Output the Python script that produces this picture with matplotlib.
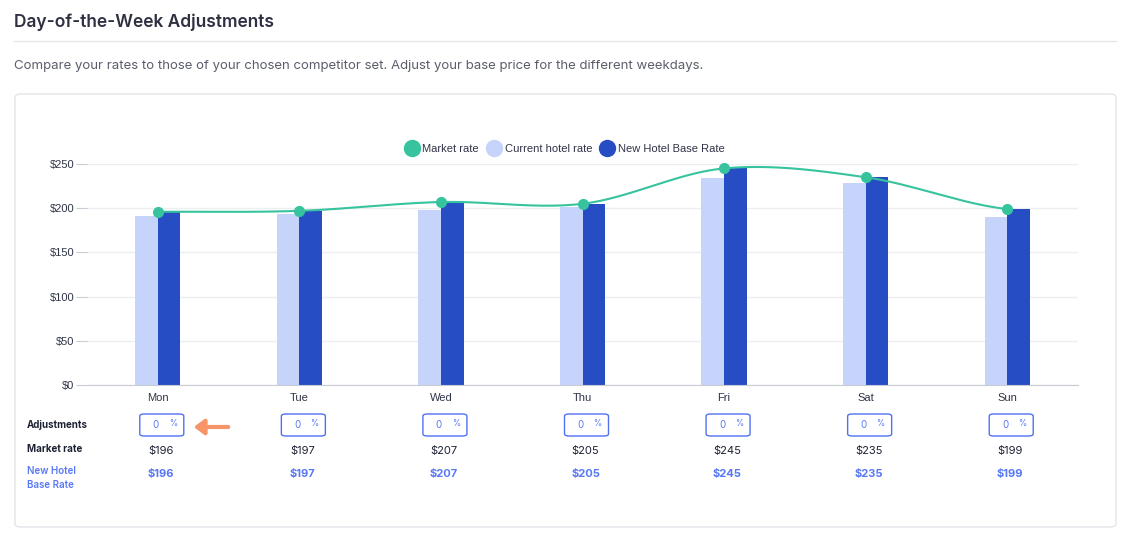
import numpy as np
import matplotlib.pyplot as plt
from matplotlib.patches import FancyBboxPatch, FancyArrowPatch
from matplotlib.lines import Line2D

# data
days = ['Mon', 'Tue', 'Wed', 'Thu', 'Fri', 'Sat', 'Sun']
market_rate = [196, 197, 207, 205, 245, 235, 199]
current_rate = [191, 194, 198, 201, 234, 229, 190]
new_base_rate = [196, 197, 207, 205, 245, 235, 199]
adjustments = [0, 0, 0, 0, 0, 0, 0]
yticks = [0, 50, 100, 150, 200, 250]

C_MARKET = '#36c39e'
C_CURRENT = '#c6d4fc'
C_NEW = '#264dc4'
C_TEXT = '#2f3447'
C_BLUE = '#5878f5'

W, H = 1130, 533
fig = plt.figure(figsize=(W / 100, H / 100), dpi=100)


def fx(x):
    return x / W


def fy(y):
    return 1 - y / H


UI = ['Inter', 'DejaVu Sans']
CH = ['Liberation Sans', 'DejaVu Sans']

# page header
fig.text(fx(14), fy(22), 'Day-of-the-Week Adjustments', fontsize=12.5, fontweight='semibold',
         color='#2f3142', family=UI, va='center')
fig.add_artist(Line2D([fx(14), fx(1116)], [fy(41), fy(41)], color='#e6e7eb', lw=1))
fig.text(fx(14), fy(66), 'Compare your rates to those of your chosen competitor set. '
         'Adjust your base price for the different weekdays.',
         fontsize=9.5, color='#5b5e6b', family=UI, va='center')

# card (behind the chart)
card = FancyBboxPatch((fx(15), fy(527)), fx(1101), 433 / H,
                      boxstyle='round,pad=0,rounding_size=0.006',
                      transform=fig.transFigure, facecolor='white', edgecolor='#e3e5ea', lw=1,
                      zorder=-5)
fig.add_artist(card)

# chart area
ax = fig.add_axes([fx(87), fy(385), fx(1078) - fx(87), (385 - 164) / H])
ax.set_facecolor('none')
x = np.arange(len(days))
bw = 0.16
ax.bar(x - bw / 2, current_rate, width=bw, color=C_CURRENT, zorder=2)
ax.bar(x + bw / 2, new_base_rate, width=bw, color=C_NEW, zorder=2)

# smooth spline (catmull-rom) through market rate points
px = np.array(x, dtype=float)
py = np.array(market_rate, dtype=float)
ext_x = np.concatenate([[2 * px[0] - px[1]], px, [2 * px[-1] - px[-2]]])
ext_y = np.concatenate([[py[0]], py, [py[-1]]])
sx, sy = [], []
t = np.linspace(0, 1, 40)
for i in range(1, len(ext_x) - 2):
    p0, p1, p2, p3 = ext_y[i - 1:i + 3]
    q0, q1, q2, q3 = ext_x[i - 1:i + 3]
    for arr, a0, a1, a2, a3 in ((sx, q0, q1, q2, q3), (sy, p0, p1, p2, p3)):
        arr.extend(0.5 * ((2 * a1) + (-a0 + a2) * t + (2 * a0 - 5 * a1 + 4 * a2 - a3) * t ** 2
                          + (-a0 + 3 * a1 - 3 * a2 + a3) * t ** 3))
ax.plot(sx, sy, color=C_MARKET, lw=1.5, zorder=3, clip_on=False)
ax.plot(x, market_rate, 'o', color=C_MARKET, ms=7, zorder=4, clip_on=False)

ax.set_xlim(-0.5, len(days) - 0.5)
ax.set_ylim(0, 250)
ax.set_yticks(yticks)
ax.set_yticklabels([f'${v}' for v in yticks], family=CH, fontsize=8, color=C_TEXT)
ax.set_xticks(x)
ax.set_xticklabels(days, family=CH, fontsize=8, color=C_TEXT)
ax.tick_params(axis='y', length=8, color='#c9ccd4', pad=1)
ax.tick_params(axis='x', length=0, pad=6)
ax.grid(axis='y', color='#eceef2', lw=1, zorder=0)
for s in ['top', 'right', 'left']:
    ax.spines[s].set_visible(False)
ax.spines['bottom'].set_color('#c9ccd4')
ax.set_axisbelow(True)

handles = [Line2D([], [], ls='', marker='o', ms=11.5, color=c) for c in (C_MARKET, C_CURRENT, C_NEW)]
fig.legend(handles, ['Market rate', 'Current hotel rate', 'New Hotel Base Rate'],
           loc='center', bbox_to_anchor=(fx(564), fy(149)), ncol=3, frameon=False,
           prop={'family': CH, 'size': 8}, labelcolor=C_TEXT, handletextpad=0.2,
           columnspacing=0.6, handlelength=1.5)

# table under the chart
centers = ax.transData.transform(np.column_stack([x, np.zeros(len(x))]))[:, 0] + 4
fig.text(fx(27), fy(425), 'Adjustments', fontsize=7, fontweight='bold', color='#1e2233', family=UI, va='center')
fig.text(fx(27), fy(449), 'Market rate', fontsize=7, fontweight='bold', color='#1e2233', family=UI, va='center')
fig.text(fx(27), fy(471), 'New Hotel', fontsize=7, fontweight='semibold', color=C_BLUE, family=UI, va='center')
fig.text(fx(27), fy(485), 'Base Rate', fontsize=7, fontweight='semibold', color=C_BLUE, family=UI, va='center')
for cx, adj, m, n in zip(centers, adjustments, market_rate, new_base_rate):
    box = FancyBboxPatch((fx(cx - 22), fy(436)), 44 / W, 22 / H,
                         boxstyle='round,pad=0,rounding_size=0.004', transform=fig.transFigure,
                         facecolor='white', edgecolor='#4f72f2', lw=1)
    fig.add_artist(box)
    fig.text(fx(cx - 6), fy(425), str(adj), fontsize=7, color=C_BLUE, family=UI, ha='center', va='center')
    fig.text(fx(cx + 11), fy(423), '%', fontsize=6, color=C_BLUE, family=UI, ha='center', va='center')
    fig.text(fx(cx - 1), fy(451), f'${m}', fontsize=8, color='#1e2233', family=UI, ha='center', va='center')
    fig.text(fx(cx - 1), fy(474), f'${n}', fontsize=8, fontweight='bold', color=C_BLUE, family=UI,
             ha='center', va='center')

# orange arrow pointing at Monday box
arrow = FancyArrowPatch((fx(231), fy(427)), (fx(191), fy(427)), transform=fig.transFigure,
                        arrowstyle='-|>,head_length=6,head_width=4.5', color='#f79569', lw=3,
                        capstyle='round', joinstyle='round')
fig.add_artist(arrow)

fig.savefig('out.png', dpi=100)
